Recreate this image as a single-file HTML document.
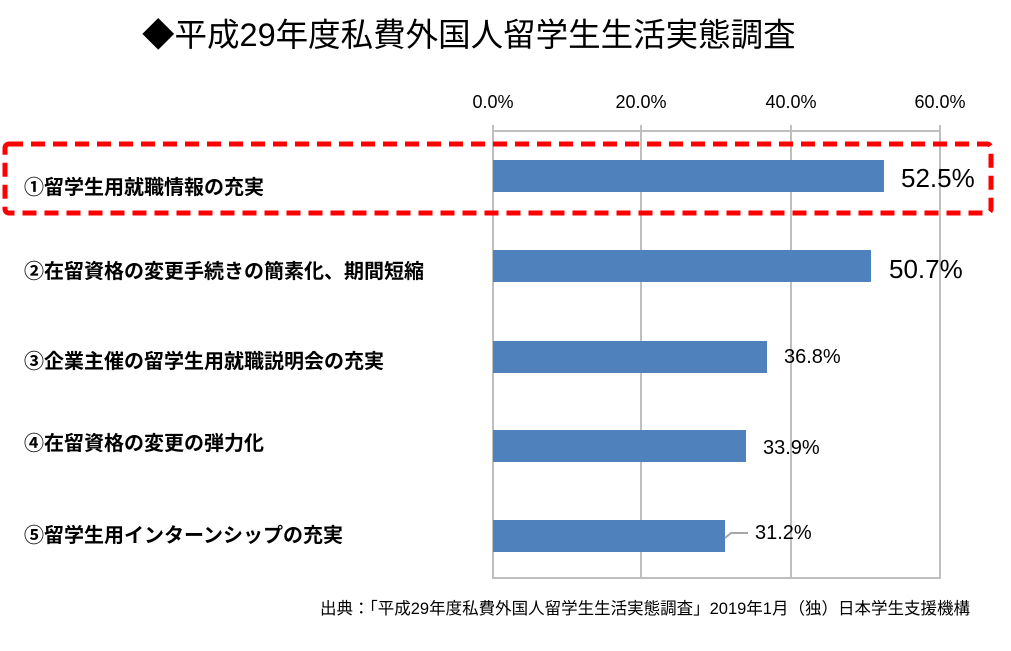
<!DOCTYPE html>
<html><head><meta charset="utf-8"><style>
body{margin:0;background:#fff;}
svg text{font-family:"Liberation Sans","Noto Sans CJK JP",sans-serif;}
</style></head><body>
<svg width="1011" height="646" xmlns="http://www.w3.org/2000/svg">
<text x="142" y="46" font-size="32.5" fill="#000">◆平成29年度私費外国人留学生生活実態調査</text>
<g font-size="18" fill="#000" text-anchor="middle">
<text x="493" y="108">0.0%</text><text x="641" y="108">20.0%</text><text x="791" y="108">40.0%</text><text x="940" y="108">60.0%</text>
</g>
<g stroke="#bfbfbf" stroke-width="2" fill="none">
<line x1="493" y1="125" x2="493" y2="579"/><line x1="641" y1="125" x2="641" y2="579"/>
<line x1="791" y1="125" x2="791" y2="579"/><line x1="940" y1="125" x2="940" y2="579"/>
<line x1="493" y1="131" x2="940" y2="131"/><line x1="493" y1="578" x2="940" y2="578"/>
</g>
<g fill="#4f81bd">
<rect x="493" y="160" width="391" height="32"/>
<rect x="493" y="250" width="378" height="32"/>
<rect x="493" y="341" width="274" height="32"/>
<rect x="493" y="430" width="253" height="32"/>
<rect x="493" y="520" width="232" height="32"/>
</g>
<polyline points="725,538 731,533 748,533" stroke="#a6a6a6" stroke-width="2" fill="none"/>
<g fill="#000">
<text x="901" y="187" font-size="26">52.5%</text>
<text x="889" y="278" font-size="26">50.7%</text>
<text x="784" y="363" font-size="20">36.8%</text>
<text x="763" y="454" font-size="20">33.9%</text>
<text x="755" y="539" font-size="20">31.2%</text>
</g>
<g font-size="20" font-weight="bold" fill="#000">
<text x="24" y="194">①留学生用就職情報の充実</text>
<text x="24" y="278">②在留資格の変更手続きの簡素化、期間短縮</text>
<text x="24" y="368">③企業主催の留学生用就職説明会の充実</text>
<text x="24" y="450">④在留資格の変更の弾力化</text>
<text x="24" y="542">⑤留学生用インターンシップの充実</text>
</g>
<rect x="5" y="144" width="986" height="69" rx="4" fill="none" stroke="#ff0000" stroke-width="5" stroke-dasharray="14,8"/>
<text x="970" y="614" font-size="16.5" text-anchor="end" fill="#000">出典：「平成29年度私費外国人留学生生活実態調査」2019年1月（独）日本学生支援機構</text>
</svg>
</body></html>
